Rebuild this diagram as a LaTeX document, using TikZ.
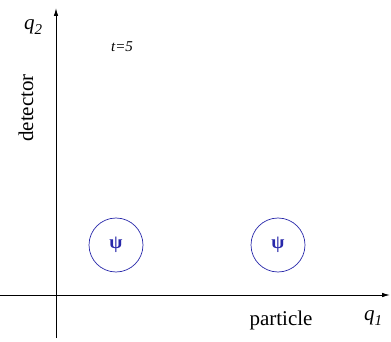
\documentclass[tikz,border=0pt]{standalone}
\usepackage{fontspec}
\setmainfont{Liberation Serif}
\usetikzlibrary{arrows.meta}
\definecolor{psiblue}{RGB}{40,40,170}
\begin{document}
\begin{tikzpicture}[x=1pt,y=-1pt,
  axis/.style={line width=0.9pt,-{Latex[length=8pt,width=4.5pt]}},
  wave/.style={circle,draw=psiblue,line width=0.7pt,minimum size=54pt,inner sep=0pt,text=psiblue,font=\fontsize{19}{19}\selectfont\bfseries},
  lab/.style={font=\fontsize{21}{21}\selectfont,inner sep=0pt}]
\useasboundingbox (0,0) rectangle (391,342);
\coordinate (ybot) at (56,338);
\coordinate (ytop) at (56,8);
\coordinate (xl) at (0,295);
\coordinate (xr) at (390,295);
\draw[axis] (ybot) -- (ytop);
\draw[axis] (xl) -- (xr);
\node[wave] (w1) at (116,245) {ψ};
\node[wave] (w2) at (278,245) {ψ};
\node[lab] (q2) at (33,27) {\textit{q}\raisebox{-0.6ex}{\textit{\fontsize{15}{15}\selectfont 2}}};
\node[lab] (q1) at (373,318) {\textit{q}\raisebox{-0.6ex}{\textit{\fontsize{15}{15}\selectfont 1}}};
\node[lab,font=\fontsize{15}{15}\selectfont] (t) at (122,47) {\textit{t=5}};
\node[lab,rotate=90] (det) at (26,108) {detector};
\node[lab] (part) at (281,320) {particle};
\end{tikzpicture}
\end{document}
